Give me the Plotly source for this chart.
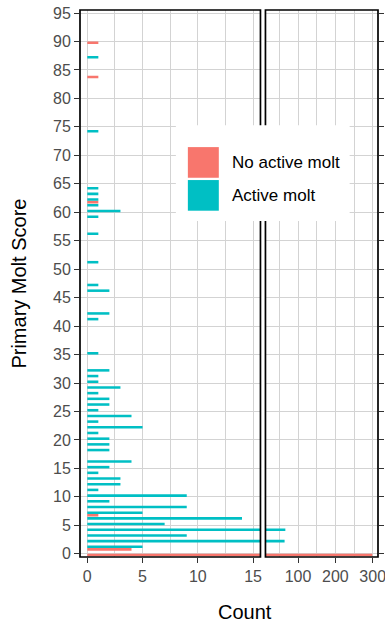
import plotly.graph_objects as go

# ---- data ----
active_scores = [1, 2, 3, 4, 5, 6, 7, 8, 9, 10, 11, 12, 13, 14, 15, 16, 18, 19, 20,
                 21, 22, 23, 24, 25, 26, 27, 28, 29, 30, 31, 32, 35, 41, 42, 46, 47,
                 51, 56, 59, 60, 61, 62, 63, 64, 74, 87]
active_counts = [5, 64, 9, 66, 7, 14, 5, 9, 2, 9, 1, 3, 3, 1, 2, 4, 2, 2, 2,
                 1, 5, 1, 4, 1, 2, 2, 1, 3, 1, 1, 2, 1, 1, 2, 2, 1,
                 1, 1, 1, 3, 1, 1, 1, 1, 1, 1]
inactive_scores = [0, 1, 7, 62, 84, 90]
inactive_counts = [299, 4, 1, 1, 1, 1]

y_ticks = list(range(0, 96, 5))
left_ticks = [0, 5, 10, 15]
right_ticks = [100, 200, 300]

RED = "#F8766D"
TEAL = "#00BFC4"
W, H = 385, 626
L, R, T, B = 80, 378.4, 9.7, 557.5


def px(xp):
    return (xp - L) / (R - L)


def py(yp):
    return (B - yp) / (B - T)


fig = go.Figure()
for xa in ["x", "x2"]:
    fig.add_trace(go.Bar(y=inactive_scores, x=inactive_counts, orientation="h",
                         offset=-0.45, width=0.45, marker=dict(color=RED, line=dict(width=0)),
                         name="No active molt", showlegend=False, xaxis=xa,
                         yaxis="y" if xa == "x" else "y2"))
    fig.add_trace(go.Bar(y=active_scores, x=active_counts, orientation="h",
                         offset=0.0, width=0.45, marker=dict(color=TEAL, line=dict(width=0)),
                         name="Active molt", showlegend=False, xaxis=xa,
                         yaxis="y" if xa == "x" else "y2"))

font = "Liberation Sans, Arial, sans-serif"
grid = "#d3d3d3"
axis_common = dict(showline=False,
                   ticks="outside", ticklen=5, tickwidth=1, tickcolor="#333333",
                   tickfont=dict(family=font, size=16, color="#4D4D4D"),
                   showgrid=True, gridcolor=grid, gridwidth=1, zeroline=False,
                   automargin=False, ticklabeloverflow="allow")

X1_END = px(260.7)
X2_START = px(265.7)

fig.update_layout(
    template="none",
    width=W, height=H, autosize=False,
    margin=dict(l=L, r=W - R, t=T, b=H - B, autoexpand=False),
    paper_bgcolor="white", plot_bgcolor="white",
    barmode="overlay", showlegend=False,
    xaxis=dict(domain=[0, X1_END], range=[-0.66, 15.67], tickmode="array",
               tickvals=left_ticks, anchor="y",
               minor=dict(dtick=2.5, tick0=0, showgrid=True, gridcolor=grid, gridwidth=1),
               **axis_common),
    xaxis2=dict(domain=[X2_START, 1], range=[12.7, 314.2], tickmode="array",
                tickvals=right_ticks, anchor="y2",
                minor=dict(dtick=50, tick0=0, showgrid=True, gridcolor=grid, gridwidth=1),
                **axis_common),
    yaxis=dict(range=[-0.56, 95.53], tickmode="array", tickvals=y_ticks, anchor="x",
               **axis_common),
    yaxis2=dict(range=[-0.56, 95.53], tickmode="array", tickvals=y_ticks, anchor="x2",
                side="right", showticklabels=False,
                **axis_common),
)

# panel borders
for x0, x1 in [(0, X1_END), (X2_START, 1)]:
    fig.add_shape(type="rect", xref="paper", yref="paper", layer="above",
                  x0=x0, x1=x1, y0=0, y1=1,
                  fillcolor="rgba(0,0,0,0)", line=dict(color="black", width=1.7))

# legend drawn manually (large square keys)
fig.add_shape(type="rect", xref="paper", yref="paper", layer="above",
              x0=px(176), x1=px(350), y0=py(221), y1=py(125),
              fillcolor="white", line=dict(width=0))
fig.add_shape(type="rect", xref="paper", yref="paper", layer="above",
              x0=px(188), x1=px(219), y0=py(177.7), y1=py(147),
              fillcolor=RED, line=dict(width=0))
fig.add_shape(type="rect", xref="paper", yref="paper", layer="above",
              x0=px(188), x1=px(219), y0=py(210.7), y1=py(180),
              fillcolor=TEAL, line=dict(width=0))
fig.add_annotation(text="No active molt", xref="paper", yref="paper", x=px(230), y=py(162.3),
                   xanchor="left", yanchor="middle", showarrow=False,
                   font=dict(family=font, size=17, color="black"))
fig.add_annotation(text="Active molt", xref="paper", yref="paper", x=px(230), y=py(195.3),
                   xanchor="left", yanchor="middle", showarrow=False,
                   font=dict(family=font, size=17, color="black"))

# axis titles
fig.add_annotation(text="Count", xref="paper", yref="paper", x=px(245), y=py(613),
                   xanchor="center", yanchor="middle", showarrow=False,
                   font=dict(family=font, size=20, color="black"))
fig.add_annotation(text="Primary Molt Score", xref="paper", yref="paper", x=px(18), y=py(283.6),
                   xanchor="center", yanchor="middle", showarrow=False, textangle=-90,
                   font=dict(family=font, size=20, color="black"))

fig.write_html("out.html")
